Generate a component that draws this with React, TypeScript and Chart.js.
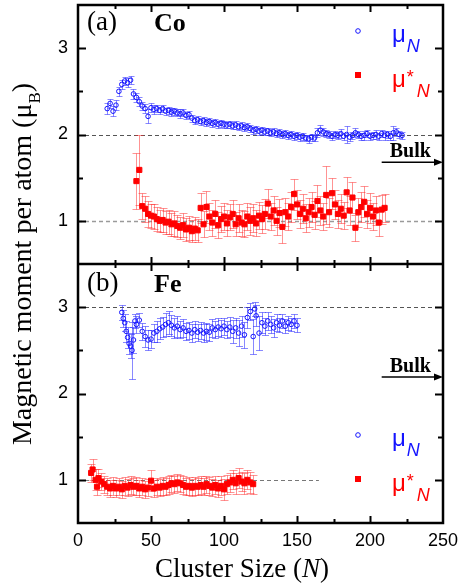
import React, { useEffect, useRef } from 'react';
import { Chart, registerables } from 'chart.js';

Chart.register(...registerables);

type P = [number, number, number]; // [N, moment, error]

// (a) Co : mu_N (open blue circles)
const coMu: P[] = [
  [20,2.30,0.06],[22,2.36,0.05],[24,2.27,0.06],[26,2.34,0.06],[28,2.50,0.05],[30,2.58,0.05],[32,2.62,0.05],[34,2.60,0.05],
  [36,2.63,0.05],[38,2.47,0.06],[40,2.43,0.05],[42,2.38,0.05],[44,2.33,0.05],[46,2.30,0.05],[48,2.21,0.08],[50,2.31,0.05],
  [52,2.29,0.05],[54,2.30,0.04],[56,2.28,0.04],[58,2.30,0.04],[60,2.27,0.04],[62,2.28,0.04],[64,2.26,0.05],[66,2.27,0.04],
  [68,2.25,0.04],[70,2.24,0.05],[72,2.25,0.04],[74,2.22,0.04],[76,2.23,0.04],[78,2.19,0.04],[80,2.16,0.04],[82,2.17,0.04],
  [84,2.15,0.04],[86,2.16,0.04],[88,2.14,0.04],[90,2.15,0.04],[92,2.13,0.04],[94,2.14,0.04],[96,2.12,0.04],[98,2.13,0.04],
  [100,2.12,0.04],[102,2.11,0.04],[104,2.12,0.04],[106,2.10,0.04],[108,2.11,0.05],[110,2.09,0.04],[112,2.10,0.04],[114,2.08,0.04],
  [116,2.09,0.04],[118,2.07,0.04],[120,2.05,0.04],[122,2.06,0.04],[124,2.04,0.04],[126,2.05,0.04],[128,2.03,0.04],[130,2.04,0.04],
  [132,2.02,0.04],[134,2.03,0.04],[136,2.01,0.04],[138,2.02,0.04],[140,2.00,0.04],[142,2.01,0.04],[144,1.99,0.04],[146,2.00,0.04],
  [148,1.98,0.04],[150,1.99,0.04],[152,1.97,0.04],[154,1.98,0.04],[156,1.96,0.04],[158,1.95,0.05],[160,1.97,0.04],[162,1.96,0.04],
  [164,2.02,0.05],[166,2.05,0.06],[168,2.03,0.05],[170,2.01,0.04],[172,2.00,0.04],[174,1.98,0.04],[176,2.00,0.04],[178,1.99,0.04],
  [180,2.01,0.05],[182,1.98,0.04],[184,2.00,0.10],[186,1.97,0.04],[188,1.99,0.04],[190,2.02,0.05],[192,2.00,0.04],[194,1.98,0.04],
  [196,1.99,0.05],[198,2.01,0.04],[200,1.98,0.04],[202,1.99,0.04],[204,2.00,0.05],[206,1.98,0.04],[208,2.01,0.04],[210,1.99,0.05],
  [212,2.00,0.04],[214,1.98,0.04],[216,2.02,0.08],[218,2.03,0.05],[220,2.00,0.04],[222,1.99,0.04],
];

// (a) Co : mu*_N (filled red squares)
const coMuStar: P[] = [
  [40,1.46,0.32],[42,1.59,0.41],[44,1.17,0.15],[46,1.14,0.15],[48,1.08,0.15],[50,1.06,0.14],[52,1.05,0.14],[54,1.02,0.14],
  [56,1.00,0.13],[58,1.01,0.14],[60,0.98,0.13],[62,0.99,0.14],[64,0.96,0.13],[66,0.97,0.14],[68,0.94,0.13],[70,0.92,0.13],
  [72,0.95,0.14],[74,0.90,0.13],[76,0.92,0.14],[78,0.88,0.13],[80,0.91,0.13],[82,0.89,0.13],[84,1.15,0.17],[86,0.96,0.15],
  [88,1.16,0.18],[90,1.05,0.16],[92,0.98,0.15],[94,1.08,0.16],[96,0.95,0.15],[98,1.02,0.15],[100,1.05,0.16],[102,0.97,0.15],
  [104,1.04,0.15],[106,1.08,0.16],[108,0.96,0.14],[110,1.03,0.16],[112,0.98,0.15],[114,0.96,0.15],[116,1.05,0.16],[118,1.00,0.16],
  [120,1.03,0.16],[122,0.97,0.15],[124,1.06,0.16],[126,1.02,0.16],[128,1.08,0.17],[130,1.20,0.17],[132,1.05,0.16],[134,1.12,0.17],
  [136,1.00,0.16],[138,1.09,0.16],[140,0.93,0.19],[142,1.10,0.16],[144,1.05,0.16],[146,1.16,0.17],[148,1.31,0.18],[150,1.19,0.17],
  [152,1.08,0.16],[154,1.14,0.17],[156,1.03,0.16],[158,1.10,0.17],[160,1.16,0.17],[162,1.07,0.16],[164,1.23,0.18],[166,1.12,0.17],
  [168,1.05,0.16],[170,1.30,0.34],[172,1.10,0.17],[174,1.32,0.18],[176,1.19,0.17],[178,1.08,0.16],[180,1.14,0.17],[182,1.06,0.16],
  [184,1.33,0.18],[186,1.12,0.17],[188,1.27,0.18],[190,0.92,0.15],[192,1.10,0.17],[194,1.16,0.17],[196,1.22,0.18],[198,1.08,0.16],
  [200,1.15,0.17],[202,1.05,0.16],[204,1.12,0.17],[206,0.98,0.16],[208,1.13,0.17],[210,1.15,0.16],
];

// (b) Fe : mu_N (open blue circles)
const feMu: P[] = [
  [30,2.94,0.09],[31,2.87,0.10],[32,2.82,0.10],[33,2.72,0.12],[34,2.65,0.12],[35,2.58,0.12],[36,2.55,0.14],[37,2.50,0.33],
  [38,2.62,0.15],[39,2.84,0.08],[40,2.80,0.10],[42,2.85,0.08],[44,2.72,0.10],[46,2.66,0.12],[48,2.62,0.12],[50,2.63,0.10],
  [52,2.70,0.10],[54,2.72,0.12],[56,2.75,0.12],[58,2.77,0.12],[60,2.80,0.13],[62,2.82,0.13],[64,2.79,0.12],[66,2.76,0.12],
  [68,2.78,0.12],[70,2.74,0.10],[72,2.76,0.10],[74,2.72,0.10],[76,2.73,0.10],[78,2.70,0.10],[80,2.74,0.10],[82,2.71,0.10],
  [84,2.73,0.10],[86,2.70,0.10],[88,2.72,0.10],[90,2.71,0.10],[92,2.76,0.10],[94,2.74,0.10],[96,2.77,0.10],[98,2.75,0.10],
  [100,2.78,0.10],[102,2.74,0.10],[104,2.77,0.12],[106,2.72,0.13],[108,2.76,0.12],[110,2.70,0.15],[112,2.78,0.12],[114,2.68,0.15],
  [116,2.88,0.12],[118,2.95,0.10],[120,2.66,0.20],[121,2.98,0.08],[122,2.90,0.12],[124,2.70,0.20],[126,2.82,0.12],[128,2.78,0.10],
  [130,2.84,0.10],[132,2.80,0.10],[134,2.76,0.10],[136,2.82,0.10],[138,2.79,0.08],[140,2.84,0.08],[142,2.78,0.08],[144,2.82,0.08],
  [146,2.80,0.08],[148,2.84,0.08],[150,2.79,0.08],
];

// (b) Fe : mu*_N (filled red squares)
const feMuStar: P[] = [
  [9,1.08,0.10],[10,1.12,0.12],[12,1.00,0.12],[13,0.92,0.10],[14,1.02,0.10],[16,0.98,0.10],[18,0.95,0.10],[20,0.92,0.10],
  [22,0.90,0.10],[24,0.93,0.10],[26,0.90,0.10],[28,0.92,0.10],[30,0.89,0.10],[32,0.93,0.10],[34,0.91,0.10],[36,0.94,0.10],
  [38,0.92,0.10],[40,0.93,0.10],[42,0.90,0.10],[44,0.92,0.10],[46,0.89,0.10],[48,0.91,0.10],[50,0.99,0.12],[52,0.90,0.10],
  [54,0.92,0.10],[56,0.91,0.10],[58,0.93,0.10],[60,0.92,0.10],[62,0.94,0.10],[64,0.96,0.10],[66,0.95,0.10],[68,0.97,0.10],
  [70,0.96,0.10],[72,0.94,0.10],[74,0.92,0.10],[76,0.93,0.10],[78,0.91,0.10],[80,0.93,0.10],[82,0.92,0.10],[84,0.94,0.10],
  [86,0.92,0.10],[88,0.95,0.10],[90,0.93,0.10],[92,0.91,0.10],[94,0.94,0.10],[96,0.90,0.10],[98,0.93,0.11],[100,0.89,0.12],
  [102,0.95,0.11],[104,0.97,0.11],[106,1.00,0.11],[108,0.96,0.12],[110,1.02,0.12],[112,0.98,0.11],[114,0.96,0.12],[116,1.00,0.11],
  [118,0.97,0.12],[120,0.95,0.11],
];

const xLabels = [0, 50, 100, 150, 200, 250];
const xMinor = [25, 75, 125, 175, 225];
const yLabels = [1, 2, 3];
const yMinor = [1.5, 2.5];

// reference (dashed) lines: [value, N from, N to]
const refA: [number, number, number][] = [[2, 0, 250], [1, 0, 250]];
const refB: [number, number, number][] = [[3, 0, 250], [1, 0, 165]];
// bulk arrows: [value, N start]
const bulkA: [number, number] = [1.68, 208];
const bulkB: [number, number] = [2.19, 208];

const BLUE = 'rgb(20,20,255)';
const RED = 'rgb(255,0,0)';

const SERIF = '"Liberation Serif", "Times New Roman", serif';
const SANS = '"Liberation Sans", Arial, sans-serif';

const decor = {
  id: 'decor',
  beforeDatasetsDraw(chart: any) {
    const { ctx, chartArea, scales } = chart;
    const x = scales.x;
    const drawRef = (s: any, list: [number, number, number][], colors: string[], widths: number[]) => {
      list.forEach(([v, a, b], i) => {
        ctx.save();
        ctx.strokeStyle = colors[i];
        ctx.lineWidth = widths[i];
        ctx.setLineDash([4, 3]);
        ctx.beginPath();
        const yy = Math.round(s.getPixelForValue(v)) + 0.5;
        ctx.moveTo(x.getPixelForValue(a), yy);
        ctx.lineTo(x.getPixelForValue(b), yy);
        ctx.stroke();
        ctx.restore();
      });
    };
    drawRef(scales.ya, refA, ['#555', '#9a9a9a'], [1, 1.5]);
    drawRef(scales.yb, refB, ['#555', '#777'], [1, 1]);

    chart.data.datasets.forEach((ds: any) => {
      const s = scales[ds.yAxisID];
      ctx.save();
      ctx.beginPath();
      ctx.rect(chartArea.left, s.top, chartArea.right - chartArea.left, s.bottom - s.top);
      ctx.clip();
      ctx.strokeStyle = ds.errColor;
      ctx.lineWidth = 1;
      ds.data.forEach((p: any) => {
        const px = Math.round(x.getPixelForValue(p.x)) + 0.5;
        const y1 = Math.round(s.getPixelForValue(p.y + p.e)) + 0.5;
        const y2 = Math.round(s.getPixelForValue(p.y - p.e)) + 0.5;
        ctx.beginPath();
        ctx.moveTo(px, y1);
        ctx.lineTo(px, y2);
        ctx.moveTo(px - ds.cap, y1);
        ctx.lineTo(px + ds.cap, y1);
        ctx.moveTo(px - ds.cap, y2);
        ctx.lineTo(px + ds.cap, y2);
        ctx.stroke();
      });
      ctx.restore();
    });
  },
  afterDraw(chart: any) {
    const { ctx, chartArea, scales } = chart;
    const x = scales.x, ya = scales.ya, yb = scales.yb;
    const L = chartArea.left, R = chartArea.right;
    ctx.save();
    ctx.strokeStyle = '#000';
    // ticks
    ctx.lineWidth = 2;
    [ya, yb].forEach((s: any) => {
      const tickX = (vals: number[], len: number) => {
        vals.forEach((v) => {
          const px = Math.round(x.getPixelForValue(v)) + 0.5;
          ctx.beginPath();
          ctx.moveTo(px, s.top); ctx.lineTo(px, s.top + len);
          ctx.moveTo(px, s.bottom); ctx.lineTo(px, s.bottom - len);
          ctx.stroke();
        });
      };
      tickX(xLabels.slice(1, -1), 7);
      tickX(xMinor, 4);
      const tickY = (vals: number[], len: number) => {
        vals.forEach((v) => {
          const py = Math.round(s.getPixelForValue(v)) + 0.5;
          ctx.beginPath();
          ctx.moveTo(L, py); ctx.lineTo(L + len, py);
          ctx.moveTo(R, py); ctx.lineTo(R - len, py);
          ctx.stroke();
        });
      };
      tickY(yLabels, 8);
      tickY(yMinor, 5);
    });
    // frame
    ctx.lineWidth = 2.5;
    ctx.strokeRect(L, chartArea.top, R - L, chartArea.bottom - chartArea.top);
    ctx.beginPath();
    ctx.moveTo(L, ya.bottom); ctx.lineTo(R, ya.bottom);
    ctx.stroke();

    // bulk arrows
    const arrow = (s: any, b: [number, number]) => {
      const yy = s.getPixelForValue(b[0]);
      const x0 = x.getPixelForValue(b[1]);
      ctx.strokeStyle = '#000';
      ctx.fillStyle = '#000';
      ctx.lineWidth = 1.5;
      ctx.beginPath();
      ctx.moveTo(x0, yy); ctx.lineTo(R - 6, yy);
      ctx.stroke();
      ctx.beginPath();
      ctx.moveTo(R, yy); ctx.lineTo(R - 9, yy - 3.5); ctx.lineTo(R - 9, yy + 3.5); ctx.closePath();
      ctx.fill();
      ctx.font = `bold 20px ${SERIF}`;
      ctx.textAlign = 'left';
      ctx.textBaseline = 'alphabetic';
      ctx.fillText('Bulk', x0 + 8, yy - 5);
    };
    arrow(ya, bulkA);
    arrow(yb, bulkB);

    // panel labels
    ctx.fillStyle = '#000';
    ctx.textAlign = 'left';
    ctx.textBaseline = 'alphabetic';
    ctx.font = `27px ${SERIF}`;
    ctx.fillText('(a)', L + 9, ya.top + 25);
    ctx.fillText('(b)', L + 9, yb.top + 27);
    ctx.font = `bold 26px ${SERIF}`;
    ctx.fillText('Co', L + 76, ya.top + 26);
    ctx.fillText('Fe', L + 76, yb.top + 28);

    // legends
    const muText = (tx: number, base: number, color: string, star: boolean) => {
      ctx.fillStyle = color;
      ctx.font = `24px ${SANS}`;
      ctx.fillText('\u03bc', tx, base);
      let w = ctx.measureText('\u03bc').width;
      if (star) {
        ctx.font = `18px ${SANS}`;
        ctx.fillText('*', tx + w + 1, base - 4);
        w += ctx.measureText('*').width + 3;
      }
      ctx.font = `italic 18px ${SANS}`;
      ctx.fillText('N', tx + w + 1, base + 10);
    };
    const legend = (yc: number, yr: number) => {
      const mx = L + 280;
      ctx.strokeStyle = BLUE;
      ctx.lineWidth = 1;
      ctx.beginPath();
      ctx.arc(mx, yc, 2.3, 0, Math.PI * 2);
      ctx.stroke();
      muText(L + 314, yc + 10.5, BLUE, false);
      ctx.fillStyle = RED;
      ctx.fillRect(mx - 3, yr - 3, 6, 6);
      muText(L + 314, yr + 12, RED, true);
    };
    legend(ya.top + 26, ya.top + 70);
    legend(yb.top + 171, yb.top + 215);

    // axis titles
    ctx.fillStyle = '#000';
    const p1 = 'Cluster Size (';
    ctx.font = `27px ${SERIF}`;
    const w1 = ctx.measureText(p1).width;
    ctx.font = `italic 27px ${SERIF}`;
    const w2 = ctx.measureText('N').width;
    ctx.font = `27px ${SERIF}`;
    const w3 = ctx.measureText(')').width;
    const sx = 242 - (w1 + w2 + w3) / 2;
    const by = 577;
    ctx.fillText(p1, sx, by);
    ctx.font = `italic 27px ${SERIF}`;
    ctx.fillText('N', sx + w1, by);
    ctx.font = `27px ${SERIF}`;
    ctx.fillText(')', sx + w1 + w2, by);

    ctx.save();
    ctx.translate(31, (chartArea.top + chartArea.bottom) / 2);
    ctx.rotate(-Math.PI / 2);
    const t1 = 'Magnetic moment per atom (\u03bc';
    ctx.font = `28px ${SERIF}`;
    const a1 = ctx.measureText(t1).width;
    ctx.font = `17px ${SERIF}`;
    const a2 = ctx.measureText('B').width;
    ctx.font = `28px ${SERIF}`;
    const a3 = ctx.measureText(')').width;
    const st = -(a1 + a2 + a3) / 2;
    ctx.fillText(t1, st, 0);
    ctx.font = `17px ${SERIF}`;
    ctx.fillText('B', st + a1, 9);
    ctx.font = `28px ${SERIF}`;
    ctx.fillText(')', st + a1 + a2, 0);
    ctx.restore();

    ctx.restore();
  },
};

const mk = (pts: P[]) => pts.map(([x, y, e]) => ({ x, y, e }));

const yScale = () => ({
  type: 'linear' as const,
  position: 'left' as const,
  stack: 'panels',
  stackWeight: 1,
  min: 0.5,
  max: 3.5,
  grid: { display: false, drawTicks: false },
  border: { display: false },
  ticks: {
    font: { family: SANS, size: 18 },
    color: '#000',
    padding: 10,
    callback: (v: any) => String(v),
  },
  afterBuildTicks: (s: any) => { s.ticks = yLabels.map((v) => ({ value: v })); },
  afterFit: (s: any) => { s.width = 78; s.paddingTop = 0; s.paddingBottom = 0; },
});

export default function App() {
  const ref = useRef<HTMLCanvasElement>(null);
  useEffect(() => {
    const chart = new Chart(ref.current as HTMLCanvasElement, {
      type: 'scatter',
      data: {
        datasets: [
          {
            label: 'Co mu', data: mk(coMu), yAxisID: 'ya', errColor: 'rgba(40,40,255,0.55)', cap: 3,
            pointStyle: 'circle', pointRadius: 2.3, pointBorderWidth: 1, pointBorderColor: BLUE,
            pointBackgroundColor: 'rgba(0,0,0,0)', showLine: false,
          } as any,
          {
            label: 'Co mu*', data: mk(coMuStar), yAxisID: 'ya', errColor: 'rgba(255,40,40,0.5)', cap: 4,
            pointStyle: 'rect', pointRadius: 3.6, pointBorderWidth: 1, pointBorderColor: RED,
            pointBackgroundColor: RED, showLine: false,
          } as any,
          {
            label: 'Fe mu', data: mk(feMu), yAxisID: 'yb', errColor: 'rgba(40,40,255,0.55)', cap: 3.5,
            pointStyle: 'circle', pointRadius: 2.3, pointBorderWidth: 1, pointBorderColor: BLUE,
            pointBackgroundColor: 'rgba(0,0,0,0)', showLine: false,
          } as any,
          {
            label: 'Fe mu*', data: mk(feMuStar), yAxisID: 'yb', errColor: 'rgba(255,40,40,0.5)', cap: 4,
            pointStyle: 'rect', pointRadius: 3.6, pointBorderWidth: 1, pointBorderColor: RED,
            pointBackgroundColor: RED, showLine: false,
          } as any,
        ],
      },
      options: {
        responsive: false,
        animation: false,
        layout: { padding: { left: 0, right: 18, top: 3, bottom: 0 } },
        plugins: { legend: { display: false }, tooltip: { enabled: false } },
        events: [],
        scales: {
          x: {
            type: 'linear',
            position: 'bottom',
            min: 0,
            max: 250,
            grid: { display: false, drawTicks: false },
            border: { display: false },
            ticks: { font: { family: SANS, size: 18 }, color: '#000', padding: 7, maxRotation: 0 },
            afterBuildTicks: (s: any) => { s.ticks = xLabels.map((v) => ({ value: v })); },
            afterFit: (s: any) => { s.height = 65; s.paddingLeft = 0; s.paddingRight = 0; },
          },
          yb: yScale(),
          ya: yScale(),
        } as any,
      },
      plugins: [decor],
    });
    return () => chart.destroy();
  }, []);
  return (
    <div style={{ position: 'absolute', left: 0, top: 0, width: 461, height: 588 }}>
      <canvas ref={ref} width={461} height={588} style={{ display: 'block', width: 461, height: 588 }} />
    </div>
  );
}
